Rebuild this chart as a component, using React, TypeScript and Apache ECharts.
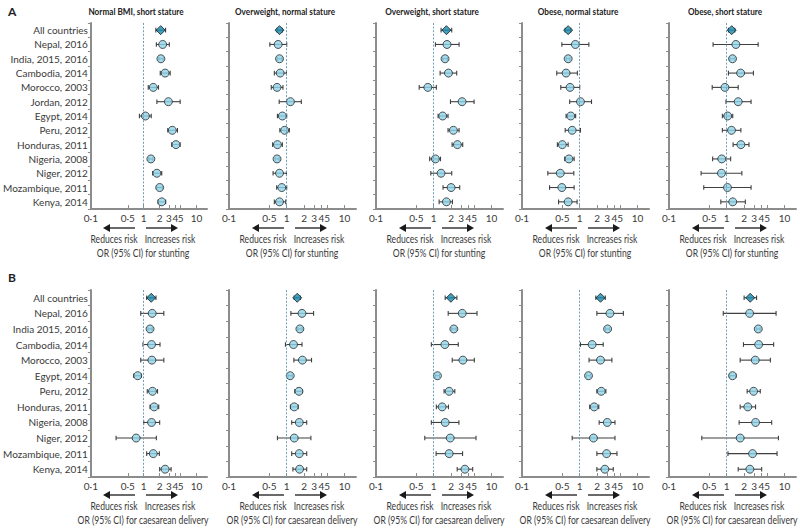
import React, { useEffect, useRef } from "react";
import * as echarts from "echarts";

// ---------- DATA ----------
const countriesA = [
  "All countries", "Nepal, 2016", "India, 2015, 2016", "Cambodia, 2014", "Morocco, 2003",
  "Jordan, 2012", "Egypt, 2014", "Peru, 2012", "Honduras, 2011", "Nigeria, 2008",
  "Niger, 2012", "Mozambique, 2011", "Kenya, 2014",
];
const countriesB = [
  "All countries", "Nepal, 2016", "India 2015, 2016", "Cambodia, 2014", "Morocco, 2003",
  "Egypt, 2014", "Peru, 2012", "Honduras, 2011", "Nigeria, 2008", "Niger, 2012",
  "Mozambique, 2011", "Kenya, 2014",
];
const panelTitles = [
  "Normal BMI, short stature", "Overweight, normal stature", "Overweight, short stature",
  "Obese, normal stature", "Obese, short stature",
];
const tickValues = [0.1, 0.5, 1, 2, 3, 4, 5, 10];
const tickLabels = ["0·1", "0·5", "1", "2", "3", "4", "5", "10"];
const xTitleA = "OR (95% CI) for stunting";
const xTitleB = "OR (95% CI) for caesarean delivery";

// Panel A — stunting
const A1_OR = [2.1, 2.29, 2.12, 2.55, 1.52, 2.94, 1.08, 3.49, 4.09, 1.37, 1.78, 2.01, 2.2];
const A1_LO = [1.7, 1.74, 1.93, 2.06, 1.22, 1.78, 0.83, 2.86, 3.4, 1.25, 1.48, 1.78, 1.88];
const A1_HI = [2.6, 3.06, 2.35, 3.18, 1.91, 4.91, 1.39, 4.37, 4.91, 1.5, 2.2, 2.26, 2.61];

const A2_OR = [0.75, 0.71, 0.75, 0.77, 0.68, 1.16, 0.84, 0.92, 0.69, 0.68, 0.75, 0.82, 0.75];
const A2_LO = [0.68, 0.51, 0.68, 0.61, 0.54, 0.74, 0.69, 0.76, 0.57, 0.63, 0.58, 0.67, 0.61];
const A2_HI = [0.84, 1.0, 0.83, 0.99, 0.86, 1.79, 1.0, 1.11, 0.84, 0.74, 0.99, 1.0, 0.96];

const A3_OR = [1.66, 1.7, 1.57, 1.8, 0.79, 3.1, 1.43, 2.19, 2.57, 1.07, 1.34, 2.0, 1.66];
const A3_LO = [1.34, 1.07, 1.43, 1.29, 0.56, 1.95, 1.19, 1.77, 2.08, 0.85, 0.89, 1.45, 1.24];
const A3_HI = [2.05, 2.75, 1.73, 2.5, 1.11, 5.0, 1.77, 2.75, 3.18, 1.31, 2.05, 2.82, 2.11];

const A4_OR = [0.63, 0.84, 0.63, 0.58, 0.68, 1.03, 0.7, 0.74, 0.5, 0.65, 0.46, 0.49, 0.63];
const A4_LO = [0.56, 0.49, 0.58, 0.4, 0.47, 0.67, 0.58, 0.56, 0.41, 0.55, 0.28, 0.3, 0.43];
const A4_HI = [0.7, 1.44, 0.68, 0.91, 1.0, 1.6, 0.85, 1.03, 0.63, 0.8, 0.79, 0.8, 0.9];

const A5_OR = [1.22, 1.44, 1.26, 1.74, 0.93, 1.58, 1.04, 1.21, 1.76, 0.82, 0.81, 1.03, 1.27];
const A5_LO = [1.07, 0.58, 1.14, 1.07, 0.56, 0.97, 0.84, 0.84, 1.29, 0.57, 0.36, 0.4, 0.79];
const A5_HI = [1.38, 3.5, 1.38, 2.9, 1.58, 2.64, 1.27, 1.76, 2.43, 1.17, 1.83, 2.64, 2.1];

// Panel B — caesarean delivery
const B1_OR = [1.39, 1.45, 1.32, 1.41, 1.43, 0.77, 1.47, 1.58, 1.41, 0.72, 1.52, 2.55];
const B1_LO = [1.14, 0.88, 1.2, 0.97, 0.88, 0.65, 1.17, 1.32, 1.0, 0.3, 1.14, 2.01];
const B1_HI = [1.71, 2.41, 1.45, 2.04, 2.41, 0.9, 1.83, 1.93, 2.01, 1.74, 1.98, 3.31];

const B2_OR = [1.52, 1.84, 1.69, 1.31, 1.87, 1.15, 1.63, 1.35, 1.65, 1.35, 1.65, 1.67];
const B2_LO = [1.35, 1.18, 1.55, 0.95, 1.33, 1.05, 1.38, 1.16, 1.22, 0.69, 1.22, 1.28];
const B2_HI = [1.72, 2.92, 1.85, 1.84, 2.69, 1.25, 1.87, 1.58, 2.22, 2.62, 2.22, 2.22];

const B3_OR = [1.98, 3.12, 2.23, 1.56, 3.2, 1.16, 1.85, 1.4, 1.58, 1.93, 1.85, 3.47];
const B3_LO = [1.58, 1.78, 2.05, 0.91, 2.09, 1.06, 1.51, 1.11, 0.91, 0.7, 1.1, 2.55];
const B3_HI = [2.52, 5.62, 2.45, 2.66, 5.05, 1.26, 2.32, 1.8, 2.73, 5.4, 3.16, 4.73];

const B4_OR = [2.29, 3.34, 3.04, 1.64, 2.29, 1.42, 2.36, 1.78, 3.0, 1.73, 2.92, 2.73];
const B4_LO = [1.9, 1.98, 2.8, 1.03, 1.45, 1.3, 1.98, 1.49, 2.17, 0.74, 1.98, 1.98];
const B4_HI = [2.77, 5.7, 3.3, 2.55, 3.61, 1.55, 2.84, 2.14, 4.08, 4.08, 4.42, 3.81];

const B5_OR = [2.55, 2.49, 3.52, 3.57, 3.12, 1.26, 2.92, 2.32, 3.16, 1.71, 2.8, 2.52];
const B5_LO = [2.0, 0.87, 3.25, 1.95, 1.71, 1.13, 2.26, 1.71, 1.64, 0.37, 1.05, 1.58];
const B5_HI = [3.29, 7.16, 3.8, 6.5, 5.7, 1.44, 3.81, 3.16, 6.01, 7.86, 7.45, 4.03];

// ---------- LAYOUT / STYLE ----------
const FONT = "Lato, 'Liberation Sans', sans-serif";
const COL_LEFT = [80, 229, 376, 522, 669];
const GRID_W = 127;
const X_MAX = 1.2; // log10 of upper axis end
const ROWS = [
  { top: 23, height: 186, cats: countriesA, xTitle: xTitleA,
    arrowY: 228, riskY: 239, titleY: 253,
    data: [[A1_OR, A1_LO, A1_HI], [A2_OR, A2_LO, A2_HI], [A3_OR, A3_LO, A3_HI], [A4_OR, A4_LO, A4_HI], [A5_OR, A5_LO, A5_HI]] },
  { top: 290, height: 187, cats: countriesB, xTitle: xTitleB,
    arrowY: 495, riskY: 506, titleY: 520,
    data: [[B1_OR, B1_LO, B1_HI], [B2_OR, B2_LO, B2_HI], [B3_OR, B3_LO, B3_HI], [B4_OR, B4_LO, B4_HI], [B5_OR, B5_LO, B5_HI]] },
];
const TEXT = "#3a3a3a";
const AXIS = "#8c8c8c";
const CIRCLE = "#8fd3ea";
const DIAMOND = "#1689b0";
const BAR = "#3f3f3f";
const SX = 0.82; // horizontal squeeze for the narrow typeface of the original

const lg = (v: number) => Math.log10(v);
const tickLogs = tickValues.map(lg);

function txt(x: number, y: number, text: string, size: number, bold = false, fill = TEXT) {
  return {
    type: "text", x, y, scaleX: SX,
    style: { text, fontSize: size, fontWeight: bold ? "bold" : "normal", fill, fontFamily: FONT, align: "center", verticalAlign: "middle" },
  };
}

function buildOption() {
  const grid: any[] = [];
  const xAxis: any[] = [];
  const yAxis: any[] = [];
  const series: any[] = [];
  const graphic: any[] = [];
  let k = 0;
  ROWS.forEach((row, r) => {
    row.data.forEach(([orv, lo, hi], c) => {
      const left = COL_LEFT[c];
      grid.push({ left, top: row.top, width: GRID_W, height: row.height, containLabel: false });
      xAxis.push({
        gridIndex: k, type: "value", min: -1, max: X_MAX,
        axisLine: { show: true, onZero: false, lineStyle: { color: AXIS, width: 2 } },
        axisTick: { show: true, inside: true, length: 4, customValues: tickLogs, lineStyle: { color: AXIS, width: 1 } },
        axisLabel: {
          show: true, customValues: tickLogs, margin: 4, fontSize: 10, color: TEXT, fontFamily: FONT,
          formatter: (v: number) => {
            const i = tickLogs.findIndex((t) => Math.abs(t - v) < 1e-6);
            return i >= 0 ? tickLabels[i] : "";
          },
        },
        splitLine: { show: false },
      });
      yAxis.push({
        gridIndex: k, type: "category", data: row.cats, inverse: true,
        axisLine: { show: true, onZero: false, lineStyle: { color: AXIS, width: 2 } },
        axisTick: { show: true, inside: false, length: 3, lineStyle: { color: AXIS, width: 1 } },
        axisLabel: { show: c === 0, fontSize: 10, color: TEXT, fontFamily: FONT, margin: 3 },
        splitLine: { show: false },
      });
      series.push({
        type: "custom", xAxisIndex: k, yAxisIndex: k, silent: true,
        encode: { x: [0, 1], y: 2 },
        data: lo.map((l, i) => [lg(l), lg(hi[i]), i]),
        renderItem: (params: any, api: any) => {
          const idx = api.value(2);
          const p1 = api.coord([api.value(0), idx]);
          const p2 = api.coord([api.value(1), idx]);
          const h = 2.3;
          const style = { stroke: BAR, lineWidth: 1.1, fill: null };
          return {
            type: "group",
            children: [
              { type: "line", shape: { x1: p1[0], y1: p1[1], x2: p2[0], y2: p2[1] }, style },
              { type: "line", shape: { x1: p1[0], y1: p1[1] - h, x2: p1[0], y2: p1[1] + h }, style },
              { type: "line", shape: { x1: p2[0], y1: p2[1] - h, x2: p2[0], y2: p2[1] + h }, style },
            ],
          };
        },
        z: 2,
      });
      series.push({
        type: "scatter", xAxisIndex: k, yAxisIndex: k, silent: true,
        symbol: "circle", symbolSize: 8,
        itemStyle: { color: CIRCLE, borderColor: "#2a2a2a", borderWidth: 1 },
        data: orv.map((v, i) =>
          i === 0
            ? { value: [lg(v), i], symbol: "diamond", symbolSize: [9, 9], itemStyle: { color: DIAMOND, borderColor: "#1a1a1a", borderWidth: 1 } }
            : { value: [lg(v), i] }
        ),
        markLine: {
          silent: true, symbol: "none", animation: false,
          label: { show: false },
          lineStyle: { type: [2, 1.6], color: "#6f9fb8", width: 1 },
          data: [{ xAxis: 0 }],
        },
        z: 3,
      });
      // arrows and texts
      const ay = row.arrowY;
      graphic.push(
        { type: "line", shape: { x1: left + 28, y1: ay, x2: left + 55, y2: ay }, style: { stroke: "#1a1a1a", lineWidth: 1.3 } },
        { type: "polygon", shape: { points: [[left + 23, ay], [left + 30, ay - 4], [left + 30, ay + 4]] }, style: { fill: "#1a1a1a" } },
        { type: "line", shape: { x1: left + 66, y1: ay, x2: left + 93, y2: ay }, style: { stroke: "#1a1a1a", lineWidth: 1.3 } },
        { type: "polygon", shape: { points: [[left + 98, ay], [left + 91, ay - 4], [left + 91, ay + 4]] }, style: { fill: "#1a1a1a" } },
        txt(left + 34, row.riskY, "Reduces risk", 10.5),
        txt(left + 90, row.riskY, "Increases risk", 10.5),
        txt(left + 63, row.titleY, row.xTitle, 10.5),
      );
      if (r === 0) {
        graphic.push(txt(left + 56, 11, panelTitles[c], 10, true, "#222"));
      }
      k++;
    });
  });
  graphic.push(
    { type: "text", x: 8, y: 11, style: { text: "A", fontSize: 12, fontWeight: "bold", fill: "#222", fontFamily: FONT, verticalAlign: "middle" } },
    { type: "text", x: 8, y: 277, style: { text: "B", fontSize: 12, fontWeight: "bold", fill: "#222", fontFamily: FONT, verticalAlign: "middle" } },
  );
  return {
    animation: false,
    backgroundColor: "#ffffff",
    textStyle: { fontFamily: FONT },
    grid, xAxis, yAxis, series, graphic,
  };
}

export default function App() {
  const ref = useRef<HTMLDivElement>(null);
  useEffect(() => {
    if (!ref.current) return;
    const chart = echarts.init(ref.current, null, { renderer: "svg" });
    chart.setOption(buildOption() as any);
    return () => chart.dispose();
  }, []);
  return <div ref={ref} style={{ position: "absolute", left: 0, top: 0, width: 800, height: 531 }} />;
}
